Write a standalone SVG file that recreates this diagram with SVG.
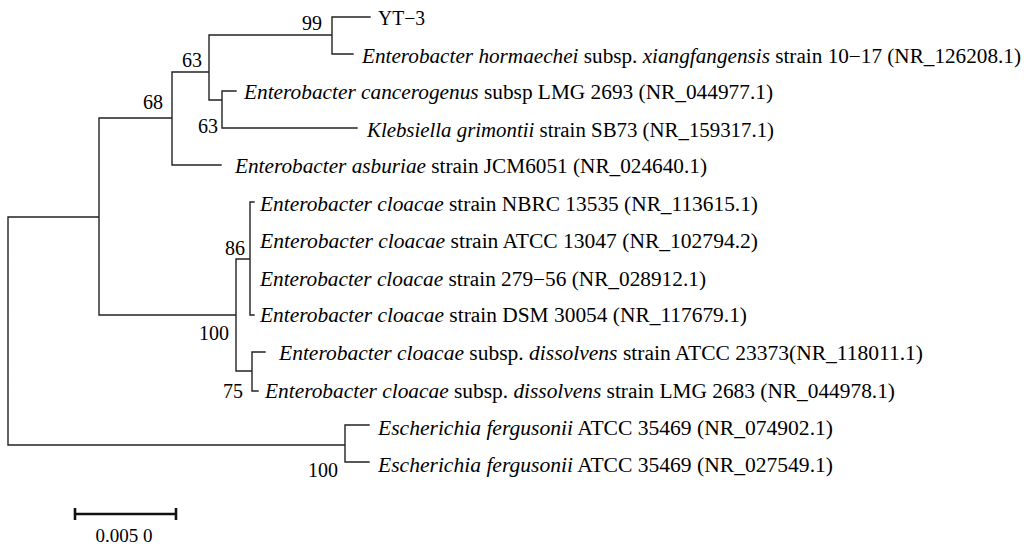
<svg xmlns="http://www.w3.org/2000/svg" width="1031" height="548" viewBox="0 0 1031 548">
<style>
.br{stroke:#222;stroke-width:1.4;fill:none;stroke-linecap:square}
.lb{font-family:"Liberation Serif","Times New Roman",serif;font-size:20.5px;fill:#000}
.bs{font-family:"Liberation Serif","Times New Roman",serif;font-size:20px;fill:#000;text-anchor:end}
.sc{font-family:"Liberation Serif","Times New Roman",serif;font-size:19px;fill:#000;text-anchor:middle}
.i{font-style:italic}
.sb{stroke:#111;stroke-width:2.6;fill:none}
</style>
<rect width="1031" height="548" fill="#fff"/>
<g id="connectors">
<path class="br" d="M8,217V445M8,217H99M8,445H345M99,118V315M99,118H172M99,315H236M172,72V165M172,72H209M172,165H221M209,35V100M209,35H332M209,100H222M332,17V54M332,17H370M332,54H353M222,91V128M222,91H236M222,128H357M236,259V371M236,259H250M236,371H252M250,202V315M250,202H254M250,315H254M252,352V391M252,352H265M252,391H258M345,425V462M345,425H369M345,462H369"/>
</g>
<g id="bootstrap">
<text class="bs" x="322" y="30">99</text>
<text class="bs" x="202" y="67">63</text>
<text class="bs" x="163" y="109">68</text>
<text class="bs" x="218" y="133">63</text>
<text class="bs" x="245" y="255">86</text>
<text class="bs" x="229" y="340">100</text>
<text class="bs" x="243" y="398">75</text>
<text class="bs" x="338" y="477">100</text>
</g>
<g id="tip-YT3"><text class="lb" x="378" y="25" textLength="47" lengthAdjust="spacingAndGlyphs">YT−3</text></g>
<g id="tip-hormaechei"><text class="lb" x="362" y="63" textLength="659" lengthAdjust="spacingAndGlyphs"><tspan class="i">Enterobacter hormaechei</tspan> subsp. <tspan class="i">xiangfangensis</tspan> strain 10−17 (NR_126208.1)</text></g>
<g id="tip-cancerogenus"><text class="lb" x="244" y="99" textLength="529" lengthAdjust="spacingAndGlyphs"><tspan class="i">Enterobacter cancerogenus</tspan> subsp LMG 2693 (NR_044977.1)</text></g>
<g id="tip-klebsiella"><text class="lb" x="367" y="137" textLength="407" lengthAdjust="spacingAndGlyphs"><tspan class="i">Klebsiella grimontii</tspan> strain SB73 (NR_159317.1)</text></g>
<g id="tip-asburiae"><text class="lb" x="235" y="173" textLength="472" lengthAdjust="spacingAndGlyphs"><tspan class="i">Enterobacter asburiae</tspan> strain JCM6051 (NR_024640.1)</text></g>
<g id="tip-nbrc"><text class="lb" x="260" y="211" textLength="498" lengthAdjust="spacingAndGlyphs"><tspan class="i">Enterobacter cloacae</tspan> strain NBRC 13535 (NR_113615.1)</text></g>
<g id="tip-atcc13047"><text class="lb" x="260" y="248" textLength="498" lengthAdjust="spacingAndGlyphs"><tspan class="i">Enterobacter cloacae</tspan> strain ATCC 13047 (NR_102794.2)</text></g>
<g id="tip-27956"><text class="lb" x="260" y="286" textLength="446" lengthAdjust="spacingAndGlyphs"><tspan class="i">Enterobacter cloacae</tspan> strain 279−56 (NR_028912.1)</text></g>
<g id="tip-dsm"><text class="lb" x="260" y="322" textLength="487" lengthAdjust="spacingAndGlyphs"><tspan class="i">Enterobacter cloacae</tspan> strain DSM 30054 (NR_117679.1)</text></g>
<g id="tip-dissolvens1"><text class="lb" x="279" y="360" textLength="644" lengthAdjust="spacingAndGlyphs"><tspan class="i">Enterobacter cloacae</tspan> subsp. <tspan class="i">dissolvens</tspan> strain ATCC 23373(NR_118011.1)</text></g>
<g id="tip-dissolvens2"><text class="lb" x="265" y="398" textLength="630" lengthAdjust="spacingAndGlyphs"><tspan class="i">Enterobacter cloacae</tspan> subsp. <tspan class="i">dissolvens</tspan> strain LMG 2683 (NR_044978.1)</text></g>
<g id="tip-esch1"><text class="lb" x="378" y="435" textLength="455" lengthAdjust="spacingAndGlyphs"><tspan class="i">Escherichia fergusonii</tspan> ATCC 35469 (NR_074902.1)</text></g>
<g id="tip-esch2"><text class="lb" x="378" y="472" textLength="455" lengthAdjust="spacingAndGlyphs"><tspan class="i">Escherichia fergusonii</tspan> ATCC 35469 (NR_027549.1)</text></g>
<g id="scale-bar">
<path class="sb" d="M74,514H177M75,508V520M176,508V520"/>
<text class="sc" x="124" y="542">0.005 0</text>
</g>
</svg>
